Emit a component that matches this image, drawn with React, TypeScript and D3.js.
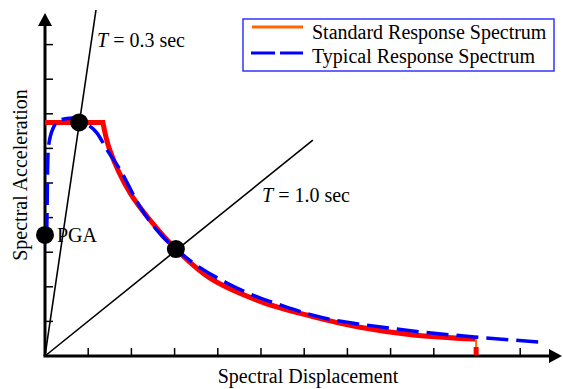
import React from "react";
import * as d3 from "d3";

// Spectral displacement (x) / spectral acceleration (y), in tick units
const standardSd = [0, 1.34, 1.5, 1.97, 2.43, 3.03, 3.82, 4.98, 6.13, 7.29, 8.52, 9.98];
const standardSa = [6.75, 6.75, 5.95, 4.71, 3.93, 3.09, 2.25, 1.58, 1.16, 0.83, 0.61, 0.49];

const typicalSd = [0.04, 0.05, 0.06, 0.08, 0.19, 0.35, 0.63, 0.93, 1.2, 1.44, 1.74, 2.2, 2.73, 3.03, 3.43, 4.21, 4.81, 5.51, 6.2, 6.67, 7.41, 8.6, 9.95, 11.46];
const typicalSa = [3.5, 4.36, 5.38, 6.04, 6.59, 6.82, 6.88, 6.73, 6.45, 5.95, 5.38, 4.31, 3.44, 3.09, 2.69, 2.11, 1.76, 1.45, 1.18, 1.04, 0.9, 0.71, 0.55, 0.4];

const xTicks = [1, 2, 3, 4, 5, 6, 7, 8, 9, 10, 11];
const yTicks = [1, 2, 3, 4, 5, 6, 7, 8, 9];

// Period lines: end point of each radial line from origin
const periodLabels = ["T = 0.3 sec", "T = 1.0 sec"];
const periodLineEnd = [[1.18, 10.0], [6.2, 6.24]];
const periodPoints = [[0.79, 6.75], [3.03, 3.09]];
const pga = [0, 3.5];

const legendLabels = ["Standard Response Spectrum", "Typical Response Spectrum"];

const FONT = "'Liberation Serif', 'Times New Roman', serif";

export default function App() {
  const W = 563, H = 389;
  const x = d3.scaleLinear().domain([0, 12]).range([45, 45 + 12 * 43.2]);
  const y = d3.scaleLinear().domain([0, 10]).range([356, 10]);
  const x0 = x(0), y0 = y(0);

  const line = d3.line<[number, number]>().x(d => x(d[0])).y(d => y(d[1])).curve(d3.curveMonotoneX);
  const smooth = d3.line<[number, number]>().x(d => x(d[0])).y(d => y(d[1])).curve(d3.curveCatmullRom.alpha(0.5));
  const lin = d3.line<[number, number]>().x(d => x(d[0])).y(d => y(d[1]));

  const std: [number, number][] = standardSd.map((v, i) => [v, standardSa[i]]);
  const typ: [number, number][] = typicalSd.map((v, i) => [v, typicalSa[i]]);
  const stdPath = (lin(std.slice(0, 2)) || "") + (smooth(std.slice(1)) || "").replace(/^M/, "L");
  const typPath = line(typ) || "";
  const last = std[std.length - 1];

  const xEnd = 562, yTop = 13;

  return (
    <svg width={W} height={H} style={{ position: "absolute", left: 0, top: 0 }} fontFamily={FONT}>
      <rect width={W} height={H} fill="#fff" />
      {/* period lines */}
      {periodLineEnd.map((p, i) => (
        <line key={i} x1={x0} y1={y0} x2={x(p[0])} y2={y(p[1])} stroke="#000" strokeWidth={1.6} />
      ))}
      {/* ticks */}
      {xTicks.map(t => (
        <line key={"x" + t} x1={x(t)} x2={x(t)} y1={y0} y2={y0 - 8} stroke="#000" strokeWidth={1.5} />
      ))}
      {yTicks.map(t => (
        <line key={"y" + t} x1={x0} x2={x0 + 8} y1={y(t)} y2={y(t)} stroke="#000" strokeWidth={1.5} />
      ))}
      {/* axes */}
      <line x1={x0} y1={y0} x2={x0} y2={yTop + 8} stroke="#000" strokeWidth={3} />
      <path d={`M${x0},${yTop} L${x0 - 7},${yTop + 13} L${x0 + 7},${yTop + 13} Z`} fill="#000" />
      <line x1={x0 - 1.5} y1={y0} x2={xEnd - 8} y2={y0} stroke="#000" strokeWidth={3} />
      <path d={`M${xEnd},${y0} L${xEnd - 13},${y0 - 7} L${xEnd - 13},${y0 + 7} Z`} fill="#000" />
      {/* standard spectrum */}
      <path d={stdPath} fill="none" stroke="#ff0000" strokeWidth={5} strokeLinejoin="miter" />
      <line x1={x(last[0])} x2={x(last[0])} y1={y(last[1])} y2={y0 - 9} stroke="#ff6600" strokeWidth={2} />
      <rect x={x(last[0]) - 2.5} y={y0 - 9} width={5} height={8} fill="#ff0000" />
      {/* typical spectrum */}
      <path d={typPath} fill="none" stroke="#0000ff" strokeWidth={3.5} strokeDasharray="22 8" />
      {/* points */}
      {periodPoints.map((p, i) => (
        <circle key={i} cx={x(p[0])} cy={y(p[1])} r={9} fill="#000" />
      ))}
      <circle cx={x(pga[0])} cy={y(pga[1])} r={9} fill="#000" />
      {/* labels */}
      <text x={97} y={47} fontSize={20}>
        <tspan fontStyle="italic">T</tspan>{periodLabels[0].slice(1)}
      </text>
      <text x={262} y={202} fontSize={20}>
        <tspan fontStyle="italic">T</tspan>{periodLabels[1].slice(1)}
      </text>
      <text x={57} y={242} fontSize={20}>PGA</text>
      <text x={308} y={383} fontSize={20} textAnchor="middle">Spectral Displacement</text>
      <text transform="translate(27,175) rotate(-90)" fontSize={20} textAnchor="middle">Spectral Acceleration</text>
      {/* legend */}
      <rect x={243} y={19} width={311} height={52} fill="#fff" stroke="#3333ff" strokeWidth={1.5} />
      <line x1={252} x2={303} y1={27} y2={27} stroke="#ff6600" strokeWidth={3} />
      <line x1={251} x2={303} y1={53} y2={53} stroke="#0000ff" strokeWidth={3} strokeDasharray="24 5" />
      <text x={312} y={39} fontSize={20}>{legendLabels[0]}</text>
      <text x={312} y={63} fontSize={20}>{legendLabels[1]}</text>
    </svg>
  );
}
